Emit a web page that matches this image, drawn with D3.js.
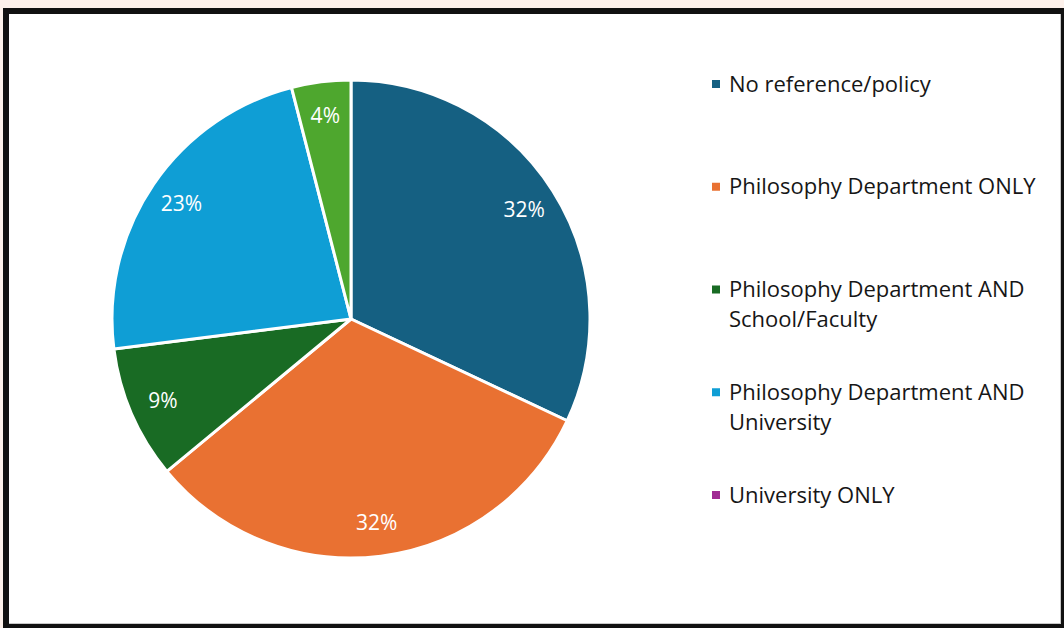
<!DOCTYPE html>
<html>
<head>
<meta charset="utf-8">
<script src="https://cdn.jsdelivr.net/npm/d3@7"></script>
<style>
  html, body { margin: 0; padding: 0; background: #fdf1eb; }
  svg { display: block; }
</style>
</head>
<body>
<svg id="chart" width="1064" height="628"></svg>
<script>
// Policy sources, shares in percent (University ONLY has no responses)
const categories = [
  "No reference/policy",
  "Philosophy Department ONLY",
  "Philosophy Department AND School/Faculty",
  "Philosophy Department AND University",
  "University ONLY",
  "Other"
];
const values = [32, 32, 9, 23, 0, 4];
const colors = ["#156082", "#E97132", "#196B24", "#0F9ED5", "#A02B93", "#4EA72E"];
// The legend lists the first five categories
const legendCount = 5;

const FONT = "'Open Sans', sans-serif";
const svg = d3.select("#chart");

// Frame
svg.append("rect").attr("x", 3).attr("y", 8).attr("width", 1064).attr("height", 625).attr("fill", "#111111");
svg.append("rect").attr("x", 9).attr("y", 14).attr("width", 1051).attr("height", 609).attr("fill", "#ffffff");
svg.append("line").attr("x1", 1060.5).attr("x2", 1060.5).attr("y1", 14).attr("y2", 624).attr("stroke", "#c8c8c8");
svg.append("line").attr("x1", 9).attr("x2", 1061).attr("y1", 623.5).attr("y2", 623.5).attr("stroke", "#c8c8c8");

// Pie
const cx = 351, cy = 319, R = 239;
const data = categories.map((c, i) => ({ name: c, value: values[i], color: colors[i] }));
const pie = d3.pie().value(d => d.value).sort(null);
const arcs = pie(data);
const arc = d3.arc().innerRadius(0).outerRadius(R);
const labelArc = d3.arc().innerRadius(205).outerRadius(205);

const g = svg.append("g").attr("transform", `translate(${cx},${cy})`);
g.selectAll("path.slice")
  .data(arcs.filter(d => d.data.value > 0))
  .join("path")
  .attr("class", "slice")
  .attr("d", arc)
  .attr("fill", d => d.data.color)
  .attr("stroke", "#ffffff")
  .attr("stroke-width", 3)
  .attr("stroke-linejoin", "round");

g.selectAll("text.pct")
  .data(arcs.filter(d => d.data.value > 0))
  .join("text")
  .attr("class", "pct")
  .attr("transform", d => `translate(${labelArc.centroid(d)})`)
  .attr("text-anchor", "middle")
  .attr("dy", "0.36em")
  .attr("font-family", FONT)
  .attr("font-size", 21)
  .attr("fill", "#ffffff")
  .text(d => d.data.value + "%");

// Legend
const legendData = data.slice(0, legendCount);
const ly = d3.scalePoint().domain(legendData.map(d => d.name)).range([84, 495]);
const legend = svg.append("g");
const items = legend.selectAll("g.item")
  .data(legendData)
  .join("g")
  .attr("class", "item")
  .attr("transform", d => `translate(712,${ly(d.name)})`);

items.append("rect")
  .attr("x", 0).attr("y", -4)
  .attr("width", 8).attr("height", 8)
  .attr("fill", d => d.color);

const maxW = 320, lineH = 30;
items.each(function(d) {
  const t = d3.select(this).append("text")
    .attr("x", 17)
    .attr("font-family", FONT)
    .attr("font-size", 22)
    .attr("fill", "#161616");
  const words = d.name.split(" ");
  let line = [];
  let tspan = t.append("tspan").attr("x", 17).attr("dy", "0.35em");
  words.forEach(w => {
    line.push(w);
    tspan.text(line.join(" "));
    if (tspan.node().getComputedTextLength() > maxW && line.length > 1) {
      line.pop();
      tspan.text(line.join(" "));
      line = [w];
      tspan = t.append("tspan").attr("x", 17).attr("dy", lineH).text(w);
    }
  });
});
</script>
</body>
</html>
